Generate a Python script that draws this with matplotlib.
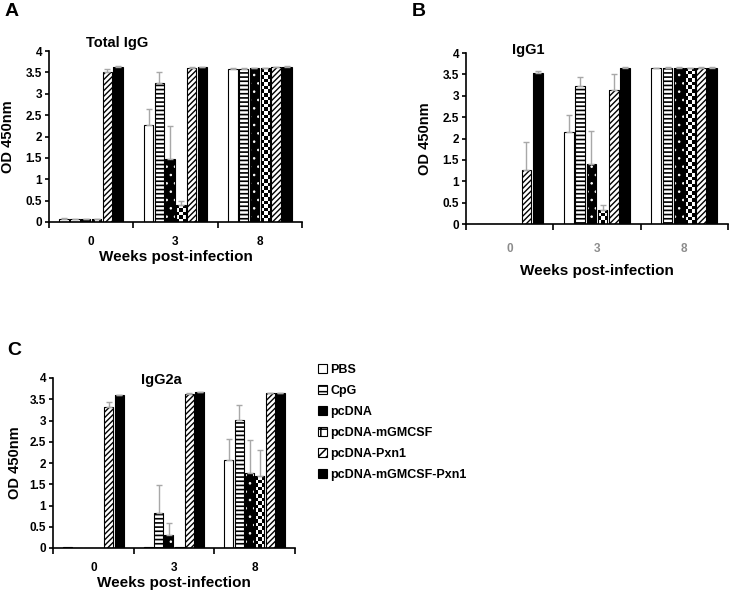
import matplotlib
matplotlib.use('Agg')
import matplotlib.pyplot as plt
import numpy as np
from matplotlib.patches import Patch

weeks = ['0', '3', '8']
groups = ['PBS', 'CpG', 'pcDNA', 'pcDNA-mGMCSF', 'pcDNA-Pxn1', 'pcDNA-mGMCSF-Pxn1']

# rows = weeks, columns = groups
total_igg = [[0.08, 0.07, 0.06, 0.06, 3.50, 3.63],
             [2.27, 3.26, 1.48, 0.39, 3.61, 3.62],
             [3.59, 3.59, 3.60, 3.60, 3.62, 3.63]]
total_igg_err = [[0.01, 0.01, 0.01, 0.01, 0.08, 0.01],
                 [0.37, 0.26, 0.77, 0.11, 0.01, 0.01],
                 [0.01, 0.01, 0.01, 0.01, 0.01, 0.01]]

igg1 = [[0.01, 0.0, 0.0, 0.0, 1.27, 3.53],
        [2.15, 3.23, 1.40, 0.33, 3.14, 3.66],
        [3.64, 3.66, 3.66, 3.65, 3.66, 3.66]]
igg1_err = [[0.0, 0.0, 0.0, 0.0, 0.65, 0.04],
            [0.40, 0.22, 0.78, 0.11, 0.37, 0.01],
            [0.01, 0.01, 0.01, 0.01, 0.01, 0.01]]

igg2a = [[0.02, 0.0, 0.0, 0.0, 3.31, 3.59],
         [0.02, 0.82, 0.31, 0.02, 3.62, 3.67],
         [2.08, 3.01, 1.77, 1.69, 3.64, 3.64]]
igg2a_err = [[0.0, 0.0, 0.0, 0.0, 0.12, 0.01],
             [0.0, 0.67, 0.28, 0.0, 0.03, 0.01],
             [0.48, 0.36, 0.76, 0.62, 0.01, 0.01]]

plt.rcParams['font.family'] = ['Liberation Sans', 'DejaVu Sans']
plt.rcParams['font.weight'] = 'bold'
plt.rcParams['axes.labelweight'] = 'bold'
plt.rcParams['hatch.linewidth'] = 1.1

W, H = 734, 594
fig = plt.figure(figsize=(W / 100, H / 100), dpi=100)

# face, hatch colour, hatch, hatch linewidth
styles = [('white', 'black', None, 1.1),
          ('white', 'black', '----', 1.2),
          ('black', 'white', '..', 0.6),
          ('white', 'black', 'checker', 1.1),
          ('white', 'black', '//////', 1.0),
          ('black', 'black', None, 1.1)]


def panel(rect, vals, errs, title, txy, tick_color, tick_pad, ylab_x, xlab_y):
    ax = fig.add_axes(rect)
    vals = np.array(vals)
    errs = np.array(errs)
    x = np.arange(len(weeks))
    step = 0.128
    w = 0.112
    px_per_unit = rect[3] * H / 4
    for i in range(len(groups)):
        xi = x + (i - 2.5) * step
        face, hcol, hatch, hlw = styles[i]
        if hatch == 'checker':
            bars = ax.bar(xi, vals[:, i], w, color='white', lw=0, zorder=2)
            for b, v in zip(bars, vals[:, i]):
                if v <= 0:
                    continue
                nrow = max(1, int(round(v * px_per_unit / 3.6)))
                img = np.indices((nrow, 3)).sum(axis=0) % 2
                im = ax.imshow(img, cmap='gray', vmin=0, vmax=1,
                               extent=(b.get_x(), b.get_x() + w, 0, v),
                               aspect='auto', interpolation='nearest', zorder=2)
                im.set_clip_path(b)
        else:
            with plt.rc_context({'hatch.linewidth': hlw}):
                ax.bar(xi, vals[:, i], w, color=face, edgecolor=hcol, hatch=hatch, lw=0, zorder=2)
        ax.bar(xi, vals[:, i], w, fill=False, edgecolor='black', lw=0.8, zorder=3)
        m = errs[:, i] > 0
        ax.errorbar(xi[m], vals[m, i], yerr=[np.zeros(m.sum()), errs[m, i]], fmt='none',
                    ecolor='#a8a8a8', elinewidth=1, capsize=2.5, capthick=1, zorder=4)

    ax.set_xlim(-0.5, 2.5)
    ax.set_ylim(0, 4)
    yt = np.arange(0, 4.01, 0.5)
    ax.set_yticks(yt, ['%g' % t for t in yt])
    ax.set_xticks(x, weeks)
    ax.set_xticks([-0.5, 0.5, 1.5, 2.5], minor=True)
    ax.tick_params(axis='x', which='major', length=0, pad=tick_pad, labelcolor=tick_color, labelsize=8.5)
    ax.tick_params(axis='x', which='minor', length=4, width=1.2, direction='out')
    ax.tick_params(axis='y', length=3, width=1.2, direction='out', labelsize=8.5, pad=2)
    for s in ['top', 'right']:
        ax.spines[s].set_visible(False)
    for s in ['left', 'bottom']:
        ax.spines[s].set_linewidth(1.2)
    ax.set_ylabel('OD 450nm', fontsize=10.5)
    ax.yaxis.set_label_coords(ylab_x, 0.5)
    ax.set_xlabel('Weeks post-infection', fontsize=11)
    ax.xaxis.set_label_coords(0.5, xlab_y)
    ax.text(txy[0], txy[1], title, transform=ax.transAxes, ha='center', va='center', fontsize=10.5)
    return ax


def rect_px(left, right, top, bottom):
    return [left / W, 1 - bottom / H, (right - left) / W, (bottom - top) / H]


panel(rect_px(49, 302, 51, 222), total_igg, total_igg_err, 'Total IgG', (0.27, 1.047),
      'black', 10, -0.134, -0.164)
panel(rect_px(466, 728, 53, 224), igg1, igg1_err, 'IgG1', (0.237, 1.018),
      '#8c8c8c', 14, -0.13, -0.234)
panel(rect_px(53, 295, 378, 548), igg2a, igg2a_err, 'IgG2a', (0.446, 0.99),
      'black', 10, -0.128, -0.165)

fig.text(5 / W, 1 - 3 / H, 'A', fontsize=14, va='top', ha='left')
fig.text(412 / W, 1 - 3 / H, 'B', fontsize=14, va='top', ha='left')
fig.text(7 / W, 1 - 342 / H, 'C', fontsize=14, va='top', ha='left')

handles = [Patch(facecolor='white', edgecolor='black', lw=0.8),
           Patch(facecolor='white', edgecolor='black', hatch='---', lw=0.8),
           Patch(facecolor='black', edgecolor='black', lw=0.8),
           Patch(facecolor='white', edgecolor='black', hatch='++', lw=0.8),
           Patch(facecolor='white', edgecolor='black', hatch='////', lw=0.8),
           Patch(facecolor='black', edgecolor='black', lw=0.8)]
fig.legend(handles, groups, loc='upper left', bbox_to_anchor=(318 / W, 1 - 364 / H),
           frameon=False, fontsize=9, handlelength=0.7, handleheight=0.7,
           handletextpad=0.3, labelspacing=0.72, borderpad=0, borderaxespad=0)

fig.savefig('out.png', dpi=100)
